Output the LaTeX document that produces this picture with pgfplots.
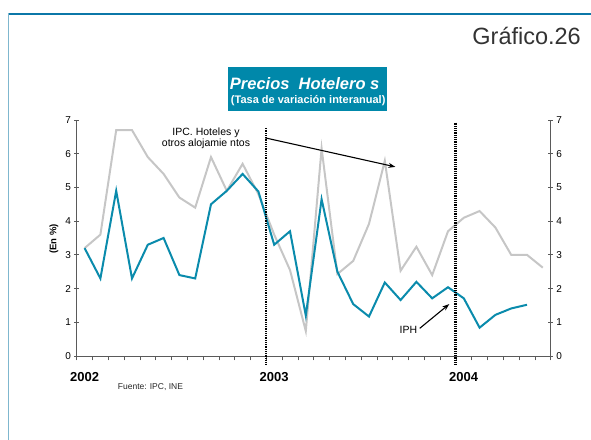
\documentclass[border=0pt]{standalone}
\usepackage{pgfplots}
\pgfplotsset{compat=1.18}
\usetikzlibrary{arrows.meta}
\usepackage{fontspec}
\setmainfont{Liberation Sans}
\definecolor{iph}{HTML}{0A8BAC}
\definecolor{ipc}{HTML}{C6C6C6}
\definecolor{titlebox}{HTML}{0088AA}
\definecolor{frametop}{HTML}{0B77A8}
\definecolor{frameleft}{HTML}{7FB7CE}
\definecolor{axisgray}{HTML}{5A5A5A}

\pgfplotsset{hotel/.style={
    scale only axis, width=474pt, height=236pt,
    xmin=0, xmax=30, ymin=0, ymax=7,
    axis line style={axisgray, line width=0.8pt},
    ytick={0,...,7},
    tick align=center,
    major tick length=4.5pt,
    tick style={axisgray, line width=0.8pt},
    /pgf/number format/assume math mode=true,
    yticklabel style={font=\fontsize{10}{12}\selectfont, text=black},
}}

\begin{document}
\begin{tikzpicture}
\begin{scope}[x=1pt, y=1pt, shift={(-76.7pt,-83pt)}]
\useasboundingbox (0,0) rectangle (591,439);
% frame and headings
\draw[frametop, line width=1.3pt] (8,425) -- (600,425);
\draw[frameleft, line width=1.3pt] (8.6,425.6) -- (8.6,-10);
\node[anchor=base east, inner sep=0pt, font=\fontsize{23.5}{28}\selectfont, text=black!80] at (581,394) {Gráfico.26};
\fill[titlebox] (228.3,328.3) rectangle (386.7,371.7);
\node[anchor=base, inner sep=0pt, text=white, font=\fontsize{16.5}{19}\selectfont\bfseries\itshape] at (304.7,349.7) {Precios\ \ Hotelero s};
\node[anchor=base, inner sep=0pt, text=white, font=\fontsize{11}{13}\selectfont\bfseries] at (308.2,335) {(Tasa de variación interanual)};
% annotations
\node[anchor=base, inner sep=0pt, font=\fontsize{10.5}{12}\selectfont] at (206,303) {IPC. Hoteles y};
\node[anchor=base, inner sep=0pt, font=\fontsize{10.5}{12}\selectfont] at (206,292) {otros alojamie ntos};
\node[anchor=base west, inner sep=0pt, font=\fontsize{10.5}{12}\selectfont] at (399.5,106) {IPH};
\node[rotate=90, inner sep=0pt, font=\fontsize{9.5}{11}\selectfont\bfseries] at (54,200) {(En \%)};
\foreach \xx/\yy in {84.7/2002, 274.2/2003, 463.7/2004}
  \node[anchor=base, inner sep=0pt, font=\fontsize{13}{15}\selectfont\bfseries] at (\xx,57.3) {\yy};
\node[anchor=base west, inner sep=0pt, font=\fontsize{8.5}{10}\selectfont, text=black!85] at (117.7,50) {Fuente: IPC, INE};
\end{scope}

\begin{axis}[
    hotel,
    axis lines*=left,
    xtick={0,...,30}, xticklabels={},
    x tick style={yshift=-2pt},
    clip=false,
]
\addplot[ipc, line width=2pt] coordinates {
    (0.5,3.2) (1.5,3.6) (2.5,6.7) (3.5,6.7) (4.5,5.9) (5.5,5.4)
    (6.5,4.7) (7.5,4.4) (8.5,5.9) (9.5,4.9) (10.5,5.7) (11.5,4.8)
    (12.5,3.6) (13.5,2.55) (14.5,0.74) (15.5,6.16) (16.5,2.43) (17.5,2.82)
    (18.5,3.92) (19.5,5.79) (20.5,2.53) (21.5,3.24) (22.5,2.4) (23.5,3.7)
    (24.5,4.1) (25.5,4.3) (26.5,3.81) (27.5,3.0) (28.5,3.0) (29.5,2.62)
};
\addplot[iph, line width=2pt] coordinates {
    (0.5,3.2) (1.5,2.3) (2.5,4.9) (3.5,2.3) (4.5,3.3) (5.5,3.5)
    (6.5,2.4) (7.5,2.3) (8.5,4.5) (9.5,4.9) (10.5,5.4) (11.5,4.88)
    (12.5,3.3) (13.5,3.7) (14.5,1.2) (15.5,4.65) (16.5,2.5) (17.5,1.54)
    (18.5,1.17) (19.5,2.18) (20.5,1.66) (21.5,2.2) (22.5,1.71) (23.5,2.04)
    (24.5,1.71) (25.5,0.84) (26.5,1.22) (27.5,1.41) (28.5,1.52)
};
\draw[black, line width=2.6pt, dash pattern=on 1pt off 0.8pt] (axis cs:11.98,6.77) -- (axis cs:11.98,-0.27);
\draw[black, line width=2.6pt, dash pattern=on 1pt off 0.8pt] (axis cs:23.97,6.92) -- (axis cs:23.97,-0.27);
\draw[black, line width=1.1pt, -{Stealth[length=7pt, width=5pt]}] (axis cs:11.93,6.47) -- (axis cs:20.17,5.61);
\draw[black, line width=1.1pt, -{Stealth[length=7pt, width=5pt]}] (axis cs:21.71,0.82) -- (axis cs:23.58,1.54);
\end{axis}

\begin{axis}[
    hotel,
    axis x line=none,
    axis y line*=right,
]
\end{axis}
\end{tikzpicture}
\end{document}
